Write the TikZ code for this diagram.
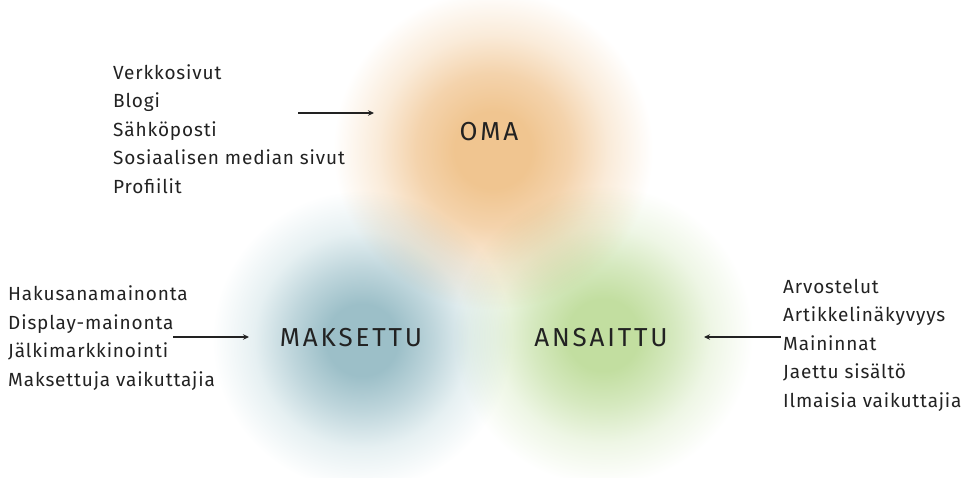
\documentclass[tikz,border=0pt]{standalone}
\usepackage{fontspec}
\setmainfont{Fira Sans}
\usetikzlibrary{arrows.meta}
\definecolor{oc}{HTML}{F0C590}
\definecolor{ocm}{HTML}{F4D3AC}
\definecolor{ocl}{HTML}{FAEBD9}
\definecolor{bc}{HTML}{9CBFC8}
\definecolor{bcm}{HTML}{BFD6DC}
\definecolor{bcl}{HTML}{E6F0F2}
\definecolor{gc}{HTML}{C2DEA0}
\definecolor{gcm}{HTML}{D6E9C0}
\definecolor{gcl}{HTML}{EEF6E5}
\definecolor{txt}{HTML}{222222}
\pgfdeclareradialshading{orangeblob}{\pgfpoint{0bp}{0bp}}{color(0bp)=(oc); color(6bp)=(oc); color(12bp)=(ocm); color(18bp)=(ocl); color(25bp)=(white); color(50bp)=(white)}
\pgfdeclareradialshading{blueblob}{\pgfpoint{0bp}{0bp}}{color(0bp)=(bc); color(6bp)=(bc); color(12bp)=(bcm); color(18bp)=(bcl); color(25bp)=(white); color(50bp)=(white)}
\pgfdeclareradialshading{greenblob}{\pgfpoint{0bp}{0bp}}{color(0bp)=(gc); color(6bp)=(gc); color(12bp)=(gcm); color(18bp)=(gcl); color(25bp)=(white); color(50bp)=(white)}
\tikzset{
  listtext/.style={font=\fontsize{19}{28.5}\selectfont\addfontfeatures{LetterSpace=4.5}, text=txt, align=left, inner sep=0pt},
  bigtext/.style={font=\fontsize{26}{30}\selectfont\addfontfeatures{LetterSpace=11}, text=txt, inner sep=0pt},
  conn/.style={draw=txt, line width=1.3pt, -{Stealth[length=6pt,width=5.5pt]}},
  blob/.style={blend mode=multiply}
}
\begin{document}
\begin{tikzpicture}[x=1pt,y=-1pt]
\useasboundingbox[fill=white] (0,0) rectangle (965,477);
% blobs
\shade[shading=orangeblob, blob] (493,150) circle (160);
\shade[shading=blueblob, blob] (362,340) circle (150);
\shade[shading=greenblob, blob] (603,335) circle (150);
% labels
\node[bigtext] (oma) at (489,132) {OMA};
\node[bigtext] (maksettu) at (351,338) {MAKSETTU};
\node[bigtext] (ansaitu) at (601,338) {ANSAITTU};
% lists
\node[listtext, anchor=west] (omalist) at (113,129) {Verkkosivut\\Blogi\\Sähköposti\\Sosiaalisen median sivut\\Profiilit};
\node[listtext, anchor=west] (maklist) at (8,338) {Hakusanamainonta\\Display-mainonta\\Jälkimarkkinointi\\Maksettuja vaikuttajia};
\node[listtext, anchor=west] (anslist) at (783,345) {Arvostelut\\Artikkelinäkyvyys\\Maininnat\\Jaettu sisältö\\Ilmaisia vaikuttajia};
% connectors
\coordinate (a1s) at (298,113);
\coordinate (a1e) at (374,113);
\coordinate (a2s) at (173,337);
\coordinate (a2e) at (249,337);
\coordinate (a3s) at (781,337);
\coordinate (a3e) at (704,337);
\draw[conn] (a1s) -- (a1e);
\draw[conn] (a2s) -- (a2e);
\draw[conn] (a3s) -- (a3e);
\end{tikzpicture}
\end{document}
